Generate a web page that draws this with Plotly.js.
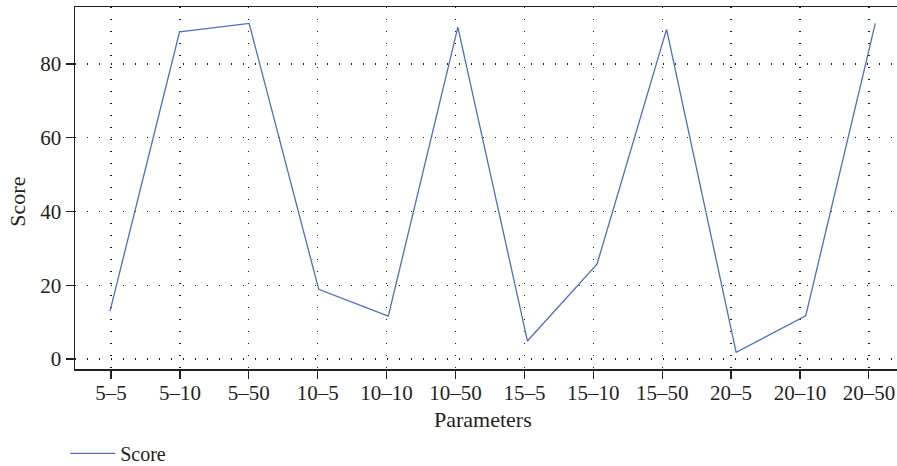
<!DOCTYPE html>
<html>
<head>
<meta charset="utf-8">
<script src="https://cdn.plot.ly/plotly-3.0.1.min.js"></script>
<style>html,body{margin:0;padding:0;background:#fff;}#chart{width:897px;height:466px;}</style>
</head>
<body>
<div id="chart"></div>
<script>
const categories = ["5\u20135","5\u201310","5\u201350","10\u20135","10\u201310","10\u201350","15\u20135","15\u201310","15\u201350","20\u20135","20\u201310","20\u201350"];
const scoreValues = [13.0, 88.7, 91.0, 18.9, 11.6, 90.0, 4.9, 25.7, 89.4, 1.8, 11.7, 91.0];
const yTickValues = [0, 20, 40, 60, 80];
const seriesName = "Score";
const xTitle = "Parameters";
const yTitle = "Score";

const font = "Liberation Serif, Times New Roman, serif";
const ink = "#231f20";

const traces = [
  {
    x: categories, y: scoreValues, xaxis: "x", yaxis: "y",
    type: "scatter", mode: "markers", marker: {opacity: 0, size: 1},
    hoverinfo: "skip", showlegend: false
  },
  {
    x: categories, y: scoreValues, xaxis: "x2", yaxis: "y",
    type: "scatter", mode: "lines", name: seriesName,
    line: {color: "#4d6fbe", width: 1.3}
  }
];

const layout = {
  width: 897, height: 466,
  margin: {l: 75, r: 0, t: 7, b: 97, autoexpand: false},
  paper_bgcolor: "#fff", plot_bgcolor: "#fff",
  font: {family: font, size: 21, color: ink},
  xaxis: {
    type: "category", range: [-0.5225, 11.408], automargin: false,
    showline: true, linecolor: ink, linewidth: 1.5, mirror: true,
    ticks: "outside", ticklen: 8, tickwidth: 1.2, tickcolor: ink,
    ticklabelstandoff: -4,
    showgrid: true, gridcolor: "#1a1a1a", gridwidth: 1.3, griddash: "1.3px,10.7px",
    zeroline: false, tickfont: {family: font, size: 21, color: ink}
  },
  xaxis2: {
    type: "category", overlaying: "x", range: [-0.503, 11.312],
    visible: false, showgrid: false, zeroline: false
  },
  yaxis: {
    range: [-2.71, 95.46], tickvals: yTickValues, automargin: false,
    showline: true, linecolor: ink, linewidth: 1.5,
    ticks: "outside", ticklen: 8, tickwidth: 1.2, tickcolor: ink,
    showgrid: true, gridcolor: "#1a1a1a", gridwidth: 1.3, griddash: "1.3px,10.7px",
    zeroline: false, tickfont: {family: font, size: 21, color: ink}
  },
  showlegend: true,
  legend: {
    orientation: "h", x: -0.012, xanchor: "left", y: -0.233, yanchor: "middle",
    font: {family: font, size: 20, color: ink}, itemwidth: 45, bgcolor: "rgba(0,0,0,0)"
  },
  annotations: [
    {text: xTitle, xref: "paper", yref: "paper", x: 0.4964, y: -0.1395,
     xanchor: "center", yanchor: "middle", showarrow: false,
     font: {family: font, size: 22, color: ink}},
    {text: yTitle, xref: "paper", yref: "paper", x: -0.0699, y: 0.461,
     xanchor: "center", yanchor: "middle", showarrow: false, textangle: -90,
     font: {family: font, size: 22, color: ink}}
  ]
};

Plotly.newPlot("chart", traces, layout, {displayModeBar: false, staticPlot: true});
</script>
</body>
</html>
